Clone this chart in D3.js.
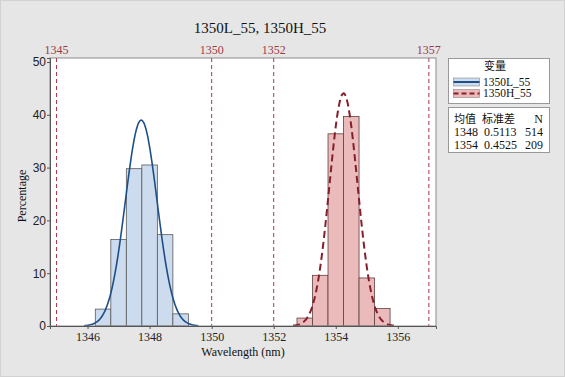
<!DOCTYPE html>
<html>
<head>
<meta charset="utf-8">
<script src="https://cdn.jsdelivr.net/npm/d3@7"></script>
<style>
  body { margin: 0; background: #e6e6e6; }
  svg { display: block; }
</style>
</head>
<body>
<svg id="chart"></svg>
<script>
// data
const seriesNames = ["1350L_55", "1350H_55"];
const binEdgesL = [1346.25, 1346.75, 1347.25, 1347.75, 1348.25, 1348.75, 1349.25];
const pctL = [3.2, 16.4, 29.8, 30.5, 17.3, 2.3];
const binEdgesH = [1352.75, 1353.25, 1353.75, 1354.25, 1354.75, 1355.25, 1355.75];
const pctH = [1.5, 9.6, 36.4, 39.7, 9.1, 3.3];
const means = [1347.73, 1354.25];
const sds = [0.5113, 0.4525];
const counts = [514, 209];
const meanLabels = ["1348", "1354"];
const refLines = [1345, 1350, 1352, 1357];
const xTicks = [1346, 1348, 1350, 1352, 1354, 1356];
const yTicks = [0, 10, 20, 30, 40, 50];

const width = 565, height = 377;
const margin = { top: 58, right: 129, bottom: 51, left: 50 };
const binWidth = 0.5;

const svg = d3.select("#chart").attr("width", width).attr("height", height);

svg.append("rect")
  .attr("x", 0.5).attr("y", 0.5)
  .attr("width", width - 1).attr("height", height - 1)
  .attr("fill", "#e6e6e6")
  .attr("stroke", "#d2d2d2");

const x = d3.scaleLinear()
  .domain([1344.79, 1357.23])
  .range([margin.left, width - margin.right]);
const y = d3.scaleLinear()
  .domain([0, 50.76])
  .range([height - margin.bottom, margin.top]);

const serif = "'Liberation Serif', 'DejaVu Serif', serif";
const sans = "'Liberation Sans', Arial, sans-serif";
const cjk = "'Noto Sans CJK SC', sans-serif";

// plot area
svg.append("rect")
  .attr("x", x.range()[0]).attr("y", y.range()[1])
  .attr("width", x.range()[1] - x.range()[0])
  .attr("height", y.range()[0] - y.range()[1])
  .attr("fill", "#ffffff");

const styles = [
  { fill: "#cddbee", stroke: "#5a5a5a", line: "#1d4f86", dash: null, lw: 1.6 },
  { fill: "#ebbaba", stroke: "#604040", line: "#861f2b", dash: "7,4", lw: 2 }
];

function drawBars(edges, pct, st) {
  const bins = pct.map((p, i) => ({ x0: edges[i], x1: edges[i + 1], p }));
  svg.append("g").selectAll("rect")
    .data(bins)
    .enter().append("rect")
    .attr("x", d => x(d.x0))
    .attr("y", d => y(d.p))
    .attr("width", d => x(d.x1) - x(d.x0))
    .attr("height", d => y(0) - y(d.p))
    .attr("fill", st.fill)
    .attr("stroke", st.stroke)
    .attr("stroke-width", 0.8);
}
drawBars(binEdgesL, pctL, styles[0]);
drawBars(binEdgesH, pctH, styles[1]);

// fitted normal curves (percentage per bin width)
const line = d3.line().x(d => x(d[0])).y(d => y(d[1])).curve(d3.curveBasis);
means.forEach((m, i) => {
  const s = sds[i];
  const pts = d3.range(-3.6, 3.6001, 0.05).map(z => {
    const v = m + z * s;
    return [v, 100 * binWidth * Math.exp(-0.5 * z * z) / (s * Math.sqrt(2 * Math.PI))];
  });
  svg.append("path")
    .datum(pts)
    .attr("d", line)
    .attr("fill", "none")
    .attr("stroke", styles[i].line)
    .attr("stroke-width", styles[i].lw)
    .attr("stroke-dasharray", styles[i].dash);
});

// reference lines
const refG = svg.append("g");
refG.selectAll("line")
  .data(refLines)
  .enter().append("line")
  .attr("x1", d => x(d)).attr("x2", d => x(d))
  .attr("y1", y.range()[1]).attr("y2", y.range()[0])
  .attr("stroke", "#b0344a")
  .attr("stroke-width", 1)
  .attr("stroke-dasharray", "4,3");
refG.selectAll("text")
  .data(refLines)
  .enter().append("text")
  .attr("x", d => x(d))
  .attr("y", 50)
  .attr("dy", "0.35em")
  .attr("text-anchor", "middle")
  .attr("fill", "#9c3a48")
  .style("font-family", serif)
  .style("font-size", "12px")
  .text(d => d);

// frame
svg.append("rect")
  .attr("x", x.range()[0]).attr("y", y.range()[1])
  .attr("width", x.range()[1] - x.range()[0])
  .attr("height", y.range()[0] - y.range()[1])
  .attr("fill", "none")
  .attr("stroke", "#8a8a8a");

// axes
const xAxis = svg.append("g")
  .attr("transform", `translate(0,${y.range()[0]})`)
  .call(d3.axisBottom(x).tickValues(xTicks).tickSize(3).tickFormat(d3.format("d")));
xAxis.select(".domain").attr("stroke", "#555");
xAxis.selectAll(".tick line").attr("stroke", "#555");
xAxis.selectAll("text")
  .attr("fill", "#222")
  .attr("y", 6)
  .style("font-family", serif)
  .style("font-size", "12px");

const yAxis = svg.append("g")
  .attr("transform", `translate(${x.range()[0]},0)`)
  .call(d3.axisLeft(y).tickValues(yTicks).tickSize(3));
yAxis.select(".domain").attr("stroke", "#555");
yAxis.selectAll(".tick line").attr("stroke", "#555");
yAxis.selectAll("text")
  .attr("fill", "#222")
  .attr("x", -4)
  .style("font-family", sans)
  .style("font-size", "12px");

// titles
svg.append("text")
  .attr("x", 260).attr("y", 28)
  .attr("dy", "0.35em")
  .attr("text-anchor", "middle")
  .style("font-family", serif)
  .style("font-size", "15px")
  .attr("fill", "#111")
  .text(seriesNames.join(", "));

svg.append("text")
  .attr("x", 243).attr("y", 352)
  .attr("dy", "0.35em")
  .attr("text-anchor", "middle")
  .style("font-family", serif)
  .style("font-size", "12px")
  .attr("fill", "#111")
  .text("Wavelength (nm)");

svg.append("text")
  .attr("transform", "translate(22,196) rotate(-90)")
  .attr("dy", "0.35em")
  .attr("text-anchor", "middle")
  .style("font-family", serif)
  .style("font-size", "12px")
  .attr("fill", "#111")
  .text("Percentage");

// legend: variables
const lg = svg.append("g");
lg.append("rect")
  .attr("x", 448.5).attr("y", 58.5).attr("width", 101).attr("height", 45)
  .attr("fill", "#fff").attr("stroke", "#999");
lg.append("text")
  .attr("x", 495).attr("y", 66).attr("dy", "0.35em")
  .attr("text-anchor", "middle")
  .style("font-family", cjk).style("font-size", "11px").attr("fill", "#111")
  .text("变量");
seriesNames.forEach((name, i) => {
  const cy = 82 + i * 11.5;
  lg.append("rect")
    .attr("x", 453.5).attr("y", cy - 4).attr("width", 26).attr("height", 8)
    .attr("fill", styles[i].fill).attr("stroke", "#888").attr("stroke-width", 0.6);
  lg.append("line")
    .attr("x1", 453.5).attr("x2", 479.5).attr("y1", cy).attr("y2", cy)
    .attr("stroke", styles[i].line).attr("stroke-width", 2)
    .attr("stroke-dasharray", styles[i].dash ? "5,3" : null);
  lg.append("text")
    .attr("x", 483).attr("y", cy).attr("dy", "0.33em")
    .style("font-family", serif).style("font-size", "11.5px").attr("fill", "#111")
    .text(name);
});

// legend: statistics
const st = svg.append("g");
st.append("rect")
  .attr("x", 448.5).attr("y", 107.5).attr("width", 101).attr("height", 45)
  .attr("fill", "#fff").attr("stroke", "#999");
const hdr = st.append("g").style("font-family", cjk).style("font-size", "11px").attr("fill", "#111");
hdr.append("text").attr("x", 454).attr("y", 119).attr("dy", "0.35em").text("均值");
hdr.append("text").attr("x", 482).attr("y", 119).attr("dy", "0.35em").text("标准差");
hdr.append("text").attr("x", 543).attr("y", 119).attr("dy", "0.35em")
  .attr("text-anchor", "end").style("font-family", serif).style("font-size", "12px").text("N");
means.forEach((m, i) => {
  const ry = 131.5 + i * 12.8;
  const row = st.append("g").style("font-family", serif).style("font-size", "12px").attr("fill", "#111");
  row.append("text").attr("x", 454).attr("y", ry).attr("dy", "0.35em").text(meanLabels[i]);
  row.append("text").attr("x", 484).attr("y", ry).attr("dy", "0.35em").text(sds[i].toFixed(4));
  row.append("text").attr("x", 543).attr("y", ry).attr("dy", "0.35em")
    .attr("text-anchor", "end").text(counts[i]);
});
</script>
</body>
</html>
